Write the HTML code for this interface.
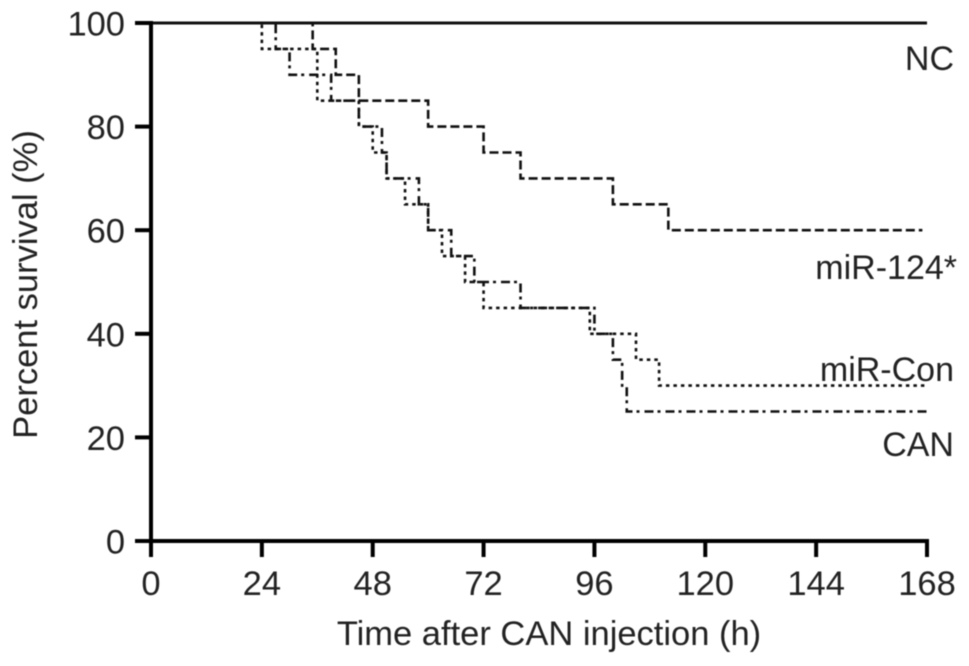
<!DOCTYPE html>
<html>
<head>
<meta charset="utf-8">
<title>Survival chart</title>
<style>
html,body{margin:0;padding:0;background:#fff;width:969px;height:666px;overflow:hidden}
svg{display:block;filter:blur(0.6px)}
text{font-family:"Liberation Sans",sans-serif;font-size:34.5px;fill:#222}
text.series-label{font-size:34px}
</style>
</head>
<body>
<svg id="chart" xmlns="http://www.w3.org/2000/svg" width="969" height="666" viewBox="0 0 969 666"></svg>
<script>
const xTicks = [0, 24, 48, 72, 96, 120, 144, 168];
const yTicks = [0, 20, 40, 60, 80, 100];

const ncTimes = [0, 168];
const ncValues = [100, 100];

const mir124Times = [0, 35, 40, 45, 60, 72, 80, 100, 112, 167];
const mir124Values = [100, 95, 90, 85, 80, 75, 70, 65, 60, 60];

const mirConTimes = [0, 24, 36, 45, 48, 51, 55, 60, 63, 68, 72, 95, 105, 110, 168];
const mirConValues = [100, 95, 85, 80, 75, 70, 65, 60, 55, 50, 45, 40, 35, 30, 30];

const canTimes = [0, 27, 30, 39, 45, 50, 51, 58, 60, 65, 70, 80, 96, 100, 102, 103, 168];
const canValues = [100, 95, 90, 85, 80, 75, 70, 65, 60, 55, 50, 45, 40, 35, 30, 25, 25];

const NS = 'http://www.w3.org/2000/svg';
const svg = document.getElementById('chart');
const sx = t => 151 + t * (776 / 168);
const sy = v => 541 - v * (518 / 100);

function make(tag, attrs, parent) {
  const el = document.createElementNS(NS, tag);
  for (const k in attrs) el.setAttribute(k, attrs[k]);
  (parent || svg).appendChild(el);
  return el;
}

function stepPath(times, values) {
  let d = 'M' + sx(times[0]) + ' ' + sy(values[0]);
  for (let i = 1; i < times.length; i++) {
    d += 'H' + sx(times[i]) + 'V' + sy(values[i]);
  }
  return d;
}

function drawSeries(times, values, dash, width, name) {
  const p = make('path', {d: stepPath(times, values), fill: 'none', stroke: '#111', 'stroke-width': width, 'stroke-dasharray': dash});
  
  
}

drawSeries(mir124Times, mir124Values, '9 4', 2.6, 'series-mir-124');
drawSeries(mirConTimes, mirConValues, '3.5 4', 2.6, 'series-mir-con');
drawSeries(canTimes, canValues, '9 4 3 5', 2.6, 'series-can');
drawSeries(ncTimes, ncValues, 'none', 3, 'series-nc');

const yAxis = make('line', {x1: sx(0), x2: sx(0), y1: sy(100) - 2, y2: sy(0) + 16, stroke: '#000', 'stroke-width': 4});



const xAxis = make('line', {x1: sx(0) - 16, x2: sx(168) + 2, y1: sy(0), y2: sy(0), stroke: '#000', 'stroke-width': 4});



xTicks.forEach(t => {
  const tick = make('line', {x1: sx(t), x2: sx(t), y1: sy(0), y2: sy(0) + 16, stroke: '#000', 'stroke-width': 4});
  
  
  const label = make('text', {x: sx(t), y: 595, 'text-anchor': 'middle'});
  label.textContent = t;
  
  
});

yTicks.forEach(v => {
  const tick = make('line', {x1: sx(0) - 16, x2: sx(0), y1: sy(v), y2: sy(v), stroke: '#000', 'stroke-width': 4});
  
  
  const label = make('text', {x: 125, y: sy(v) + 12.5, 'text-anchor': 'end'});
  label.textContent = v;
  
  
});
</script>
<script>
(function () {
  const s = document.getElementById('chart');
  const ns = 'http://www.w3.org/2000/svg';

  const xTitle = document.createElementNS(ns, 'text');
  xTitle.setAttribute('x', '549');
  xTitle.setAttribute('y', '645');
  xTitle.setAttribute('text-anchor', 'middle');
  xTitle.textContent = 'Time after CAN injection (h)';
  
  
  s.appendChild(xTitle);

  const yTitle = document.createElementNS(ns, 'text');
  yTitle.setAttribute('transform', 'translate(37 284.5) rotate(-90)');
  yTitle.setAttribute('text-anchor', 'middle');
  yTitle.textContent = 'Percent survival (%)';
  
  
  s.appendChild(yTitle);

  const nc = document.createElementNS(ns, 'text');
  nc.setAttribute('class', 'series-label');
  nc.setAttribute('x', '954');
  nc.setAttribute('y', '70');
  nc.setAttribute('text-anchor', 'end');
  nc.textContent = 'NC';
  
  
  s.appendChild(nc);

  const mir124 = document.createElementNS(ns, 'text');
  mir124.setAttribute('class', 'series-label');
  mir124.setAttribute('x', '957');
  mir124.setAttribute('y', '279');
  mir124.setAttribute('text-anchor', 'end');
  mir124.textContent = 'miR-124*';
  
  
  s.appendChild(mir124);

  const mirCon = document.createElementNS(ns, 'text');
  mirCon.setAttribute('class', 'series-label');
  mirCon.setAttribute('x', '954');
  mirCon.setAttribute('y', '381');
  mirCon.setAttribute('text-anchor', 'end');
  mirCon.textContent = 'miR-Con';
  
  
  s.appendChild(mirCon);

  const can = document.createElementNS(ns, 'text');
  can.setAttribute('class', 'series-label');
  can.setAttribute('x', '954');
  can.setAttribute('y', '456');
  can.setAttribute('text-anchor', 'end');
  can.textContent = 'CAN';
  
  
  s.appendChild(can);
})();
</script>
</body>
</html>
